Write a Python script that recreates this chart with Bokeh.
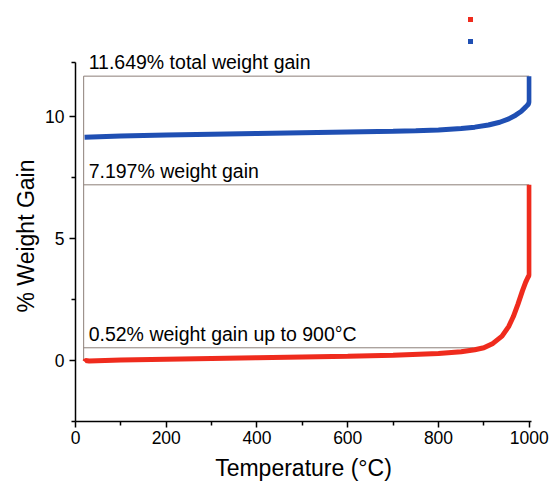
from bokeh.plotting import figure
from bokeh.layouts import column
from bokeh.models import Range1d, FixedTicker
from bokeh.core.properties import value
from bokeh.embed import file_html
from bokeh.resources import INLINE

# ---- data ----
cycle1_temp = [20, 22, 30, 100, 200, 300, 400, 500, 600, 700, 800, 850, 880, 900, 920, 940,
               955, 965, 975, 985, 992, 997, 1000, 1000]
cycle1_gain = [-0.05, 0.0, -0.02, 0.02, 0.05, 0.08, 0.11, 0.14, 0.17, 0.21, 0.29, 0.36, 0.44,
               0.52, 0.7, 1.0, 1.4, 1.8, 2.3, 2.85, 3.2, 3.4, 3.5, 7.197]
cycle2_temp = [20, 100, 200, 300, 400, 500, 600, 700, 750, 800, 850, 880, 910, 935, 955, 970,
               982, 992, 998, 1000, 1000]
cycle2_gain = [9.15, 9.2, 9.24, 9.27, 9.3, 9.33, 9.36, 9.39, 9.41, 9.44, 9.5, 9.56, 9.65, 9.76,
               9.9, 10.05, 10.2, 10.38, 10.5, 10.6, 11.649]
series_names = ["Cycle 1", "Cycle 2"]
series_colors = ["#ef2b1d", "#1f4fb3"]

ann_levels = [11.649, 7.197, 0.52]
ann_texts = ["11.649% total weight gain", "7.197% weight gain", "0.52% weight gain up to 900°C"]
ann_x_start = 18
ann_x_end = [1000, 1000, 900]

x_major = [0, 200, 400, 600, 800, 1000]
x_minor = [100, 300, 500, 700, 900]
y_major = [0, 5, 10]
y_minor = [-2.5, 2.5, 7.5, 12.2]
y_axis_bounds = (-2.5, 12.2)

FONT = "Liberation Sans"
LEG_H = 50
LEFT = 75

# ---- legend strip (separate small figure above the plot; its frame is aligned
# with the main plot's frame, so it spans x = 75..557 in page pixels) ----
leg = figure(frame_width=557 - LEFT, frame_height=LEG_H, output_backend="svg",
             toolbar_location=None,
             x_range=Range1d(LEFT, 557), y_range=Range1d(LEG_H, 0),
             x_axis_location=None, y_axis_location=None,
             min_border=0, min_border_left=0, min_border_right=0,
             min_border_top=0, min_border_bottom=0)
leg.grid.visible = False
leg.outline_line_color = None
leg_y = [19, 41]
leg.scatter([470, 470], leg_y, marker="square", size=5, color=series_colors,
            line_color=None)
leg.text(x=[495, 495], y=leg_y, text=series_names, text_font=value(FONT),
         text_font_size="15.5px", text_color="black", text_baseline="middle",
         text_align="left")

# ---- main plot ----
p = figure(width=557, height=487 - LEG_H, output_backend="svg", toolbar_location=None,
           x_range=Range1d(0, 1005), y_range=Range1d(-2.5, 12.7),
           min_border_left=LEFT, min_border_right=26, min_border_top=0,
           min_border_bottom=66)
p.outline_line_color = None
p.grid.visible = False
p.background_fill_color = "white"
p.border_fill_color = "white"

line_col = "#8c7f78"
for lvl, xe in zip(ann_levels, ann_x_end):
    p.line([ann_x_start, xe], [lvl, lvl], line_color=line_col, line_width=1)
p.line([ann_x_start, ann_x_start], [0, ann_levels[0]], line_color=line_col, line_width=1)

for lvl, t in zip(ann_levels, ann_texts):
    p.text(x=[ann_x_start], y=[lvl], text=[t], x_offset=5, y_offset=-14,
           text_font=value(FONT), text_font_size="19.5px", text_color="black",
           text_baseline="alphabetic", text_align="left")

p.line(cycle1_temp, cycle1_gain, line_color=series_colors[0], line_width=5)
p.line(cycle2_temp, cycle2_gain, line_color=series_colors[1], line_width=5)

p.xaxis.ticker = FixedTicker(ticks=x_major, minor_ticks=x_minor)
p.yaxis.ticker = FixedTicker(ticks=y_major, minor_ticks=y_minor)
p.yaxis.bounds = y_axis_bounds
for ax in (p.xaxis, p.yaxis):
    ax.axis_line_color = "black"
    ax.axis_line_width = 1.5
    ax.major_tick_line_color = "black"
    ax.major_tick_line_width = 1.5
    ax.minor_tick_line_color = "black"
    ax.minor_tick_line_width = 1.5
    ax.major_tick_in = 0
    ax.major_tick_out = 6
    ax.minor_tick_in = 0
    ax.minor_tick_out = 4
    ax.major_label_text_font = FONT
    ax.major_label_text_font_size = "17.5px"
    ax.major_label_text_color = "black"
    ax.axis_label_text_font = FONT
    ax.axis_label_text_font_size = "23px"
    ax.axis_label_text_font_style = "normal"
    ax.axis_label_text_color = "black"
p.xaxis.axis_label = "Temperature (°C)"
p.yaxis.axis_label = "% Weight Gain"
p.xaxis.major_label_standoff = 3
p.yaxis.major_label_standoff = 5
p.xaxis.axis_label_standoff = 8
p.yaxis.axis_label_standoff = 3

layout = column(leg, p, spacing=0)
open("out.html", "w").write(file_html(layout, INLINE))
